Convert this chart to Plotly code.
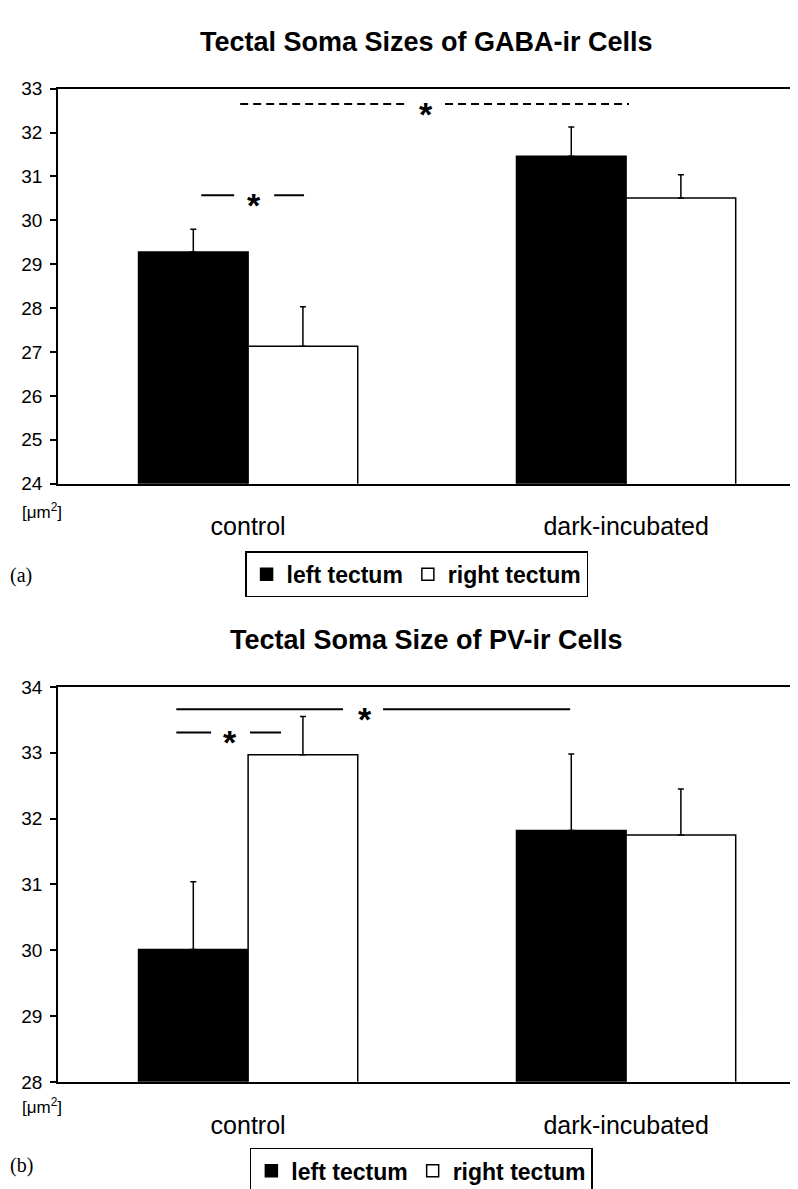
import plotly.graph_objects as go

# ---------------- data ----------------
categories = ["control", "dark-incubated"]
series_names = ["left tectum", "right tectum"]

gaba_left = [29.28, 31.46]
gaba_right = [27.13, 30.51]
gaba_left_err = [0.52, 0.67]
gaba_right_err = [0.90, 0.53]

pv_left = [30.01, 31.82]
pv_right = [32.97, 31.75]
pv_left_err = [1.03, 1.16]
pv_right_err = [0.58, 0.70]

gaba_ticks = [24, 25, 26, 27, 28, 29, 30, 31, 32, 33]
pv_ticks = [28, 29, 30, 31, 32, 33, 34]

title_a = "Tectal Soma Sizes of GABA-ir Cells"
title_b = "Tectal Soma Size of PV-ir Cells"

# significance brackets: (x segments in category units, y level, dash, asterisk x)
sig_a = [
    dict(segs=[(-0.021, 0.415), (0.521, 1.008)], y=32.65, dash="8px,5px", star=0.471),
    dict(segs=[(-0.124, -0.037), (0.069, 0.148)], y=30.57, dash="solid", star=0.016),
]
sig_b = [
    dict(segs=[(-0.190, 0.251), (0.357, 0.852)], y=33.66, dash="solid", star=0.310),
    dict(segs=[(-0.190, -0.098), (0.005, 0.087)], y=33.31, dash="solid", star=-0.048),
]

# ---------------- layout constants ----------------
W, H = 798, 1189
def py(px):
    return 1 - px / H

SANS = "Liberation Sans, Arial, Helvetica, sans-serif"

fig = go.Figure()

panels = [
    dict(left=gaba_left, right=gaba_right, lerr=gaba_left_err, rerr=gaba_right_err,
         xa="x", ya="y", legend="legend", sig=sig_a),
    dict(left=pv_left, right=pv_right, lerr=pv_left_err, rerr=pv_right_err,
         xa="x2", ya="y2", legend="legend2", sig=sig_b),
]

xvals = list(range(len(categories)))
for p in panels:
    fig.add_trace(go.Bar(
        x=xvals, y=p["left"], name=series_names[0],
        marker=dict(color="black", line=dict(color="black", width=1.5)),
        error_y=dict(type="data", symmetric=False, array=p["lerr"],
                     arrayminus=[0] * len(p["lerr"]), color="black",
                     thickness=1.5, width=3),
        xaxis=p["xa"], yaxis=p["ya"], legend=p["legend"],
    ))
    fig.add_trace(go.Bar(
        x=xvals, y=p["right"], name=series_names[1],
        marker=dict(color="white", line=dict(color="black", width=1.5)),
        error_y=dict(type="data", symmetric=False, array=p["rerr"],
                     arrayminus=[0] * len(p["rerr"]), color="black",
                     thickness=1.5, width=3),
        xaxis=p["xa"], yaxis=p["ya"], legend=p["legend"],
    ))
    for s in p["sig"]:
        for (a, b) in s["segs"]:
            fig.add_trace(go.Scatter(
                x=[a, b], y=[s["y"], s["y"]], mode="lines",
                line=dict(color="black", width=2, dash=s["dash"]),
                showlegend=False, hoverinfo="skip",
                xaxis=p["xa"], yaxis=p["ya"],
            ))
        fig.add_annotation(
            x=s["star"], y=s["y"], xref=p["xa"], yref=p["ya"],
            xanchor="center", yanchor="middle",
            text="<b>*</b>", showarrow=False, yshift=-10,
            font=dict(family=SANS, size=34, color="black"),
        )

xrange = [-0.503, 1.476]
xdom = [50 / W, 1.0]

common_x = dict(
    range=xrange, domain=xdom, showline=True, linecolor="black", linewidth=1.5,
    mirror=True, showgrid=False, zeroline=False, ticks="",
    tickvals=xvals, ticktext=categories, ticklabelstandoff=20,
    tickfont=dict(family=SANS, size=25, color="black"),
)
common_y = dict(
    showline=True, linecolor="black", linewidth=1.5, showgrid=False,
    zeroline=False, ticks="outside", ticklen=6, tickwidth=1.5, tickcolor="black",
    ticklabelstandoff=4,
    tickfont=dict(family=SANS, size=19, color="black"), dtick=1,
)

legend_style = dict(orientation="h", xanchor="center", yanchor="top",
                    bordercolor="black", borderwidth=1.5, bgcolor="white",
                    font=dict(family=SANS, size=23, color="black", weight="bold"),
                    itemwidth=30, tracegroupgap=0)

fig.update_layout(
    width=W, height=H, margin=dict(l=0, r=0, t=0, b=0),
    paper_bgcolor="white", plot_bgcolor="white",
    barmode="group", bargap=0.42, bargroupgap=0,
    xaxis=dict(**common_x, anchor="y"),
    yaxis=dict(**common_y, range=[gaba_ticks[0], gaba_ticks[-1]], tickvals=gaba_ticks,
               domain=[py(474), py(72)], anchor="x"),
    xaxis2=dict(**common_x, anchor="y2"),
    yaxis2=dict(**common_y, range=[pv_ticks[0], pv_ticks[-1]], tickvals=pv_ticks,
                domain=[py(1083), py(681)], anchor="x2"),
    legend=dict(**legend_style, x=0.512, y=py(543)),
    legend2=dict(**legend_style, x=0.518, y=py(1150)),
    showlegend=True,
)

# titles
for txt, ypix in [(title_a, 24), (title_b, 633)]:
    fig.add_annotation(x=418 / W, y=py(ypix), xref="paper", yref="paper",
                       xanchor="center", yanchor="middle",
                       text="<b>" + txt + "</b>", showarrow=False,
                       font=dict(family=SANS, size=27, color="black"))

# unit labels and panel letters
for ypix in [502, 1108]:
    fig.add_annotation(x=12 / W, y=py(ypix), xref="paper", yref="paper",
                       xanchor="left", yanchor="middle",
                       text="[\u03bcm<sup>2</sup>]", showarrow=False,
                       font=dict(family=SANS, size=17, color="black"))
for txt, ypix in [("(a)", 568), ("(b)", 1168)]:
    fig.add_annotation(x=0, y=py(ypix), xref="paper", yref="paper",
                       xanchor="left", yanchor="middle",
                       text=txt, showarrow=False,
                       font=dict(family="Liberation Serif, Times New Roman, serif",
                                 size=20, color="black"))

fig.write_html("out.html")
